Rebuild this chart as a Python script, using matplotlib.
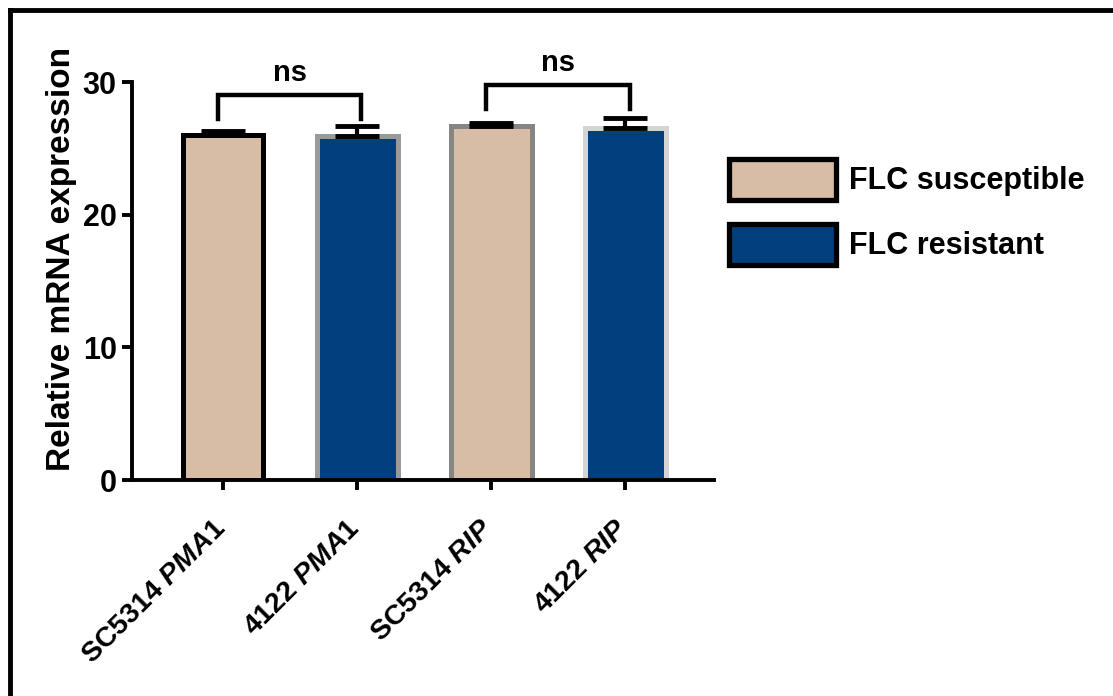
import matplotlib
matplotlib.use("Agg")
import matplotlib.pyplot as plt
from matplotlib.patches import Patch
from matplotlib.lines import Line2D
import matplotlib.transforms as mtrans
import numpy as np

plt.rcParams['font.family'] = ['Liberation Sans', 'DejaVu Sans']
plt.rcParams['font.weight'] = 'bold'
plt.rcParams['mathtext.fontset'] = 'custom'
plt.rcParams['mathtext.it'] = 'Liberation Sans:italic:bold'
plt.rcParams['mathtext.rm'] = 'Liberation Sans:bold'

# data
strains = ["SC5314", "4122", "SC5314", "4122"]
genes = ["PMA1", "PMA1", "RIP", "RIP"]
means = [26.0, 25.95, 26.7, 26.5]
errs = [0.3, 0.7, 0.2, 0.8]
groups = ["FLC susceptible", "FLC resistant", "FLC susceptible", "FLC resistant"]
legend_labels = ["FLC susceptible", "FLC resistant"]
fill = {"FLC susceptible": "#D7BCA6", "FLC resistant": "#023F7E"}
edges = ["#000000", "#9A9A9A", "#858585", "#D4D4D4"]
pairs = [(0, 1), (2, 3)]
pair_labels = ["ns", "ns"]

fig = plt.figure(figsize=(11.13, 6.96), dpi=100)
ax = fig.add_axes([132 / 1113, 1 - 480 / 696, 582 / 1113, 398 / 696])

x = np.arange(len(means))
ax.bar(x, means, width=0.6, color=[fill[g] for g in groups],
       edgecolor=edges, linewidth=3.6, zorder=2)
ax.errorbar(x, means, yerr=[np.zeros(len(errs)), errs], fmt='none',
            ecolor='black', elinewidth=3, capsize=16, capthick=3.5, zorder=3)

# significance brackets
br_top = [29.0, 29.8]
br_leg = [27.2, 27.95]
for (a, b), lab, yt, yl in zip(pairs, pair_labels, br_top, br_leg):
    xa, xb = a - 0.04, b + 0.03
    ax.plot([xa, xa, xb, xb], [yl, yt, yt, yl], color='black', lw=3.2,
            solid_joinstyle='miter', clip_on=False, zorder=4)
    ax.text((xa + xb) / 2, yt + 0.6, lab, ha='center', va='bottom',
            fontsize=21, fontweight='bold')

ax.set_xlim(-0.68, 3.66)
ax.set_ylim(0, 30)
ax.set_yticks([0, 10, 20, 30])
ax.set_xticks(x)
ax.set_xticklabels([s + r" $\mathit{" + g + "}$" for s, g in zip(strains, genes)],
                   rotation=45, ha='right', va='top', rotation_mode='anchor')
ax.tick_params(axis='both', width=2.8, length=7, pad=4)
ax.tick_params(axis='y', labelsize=22)
ax.tick_params(axis='x', labelsize=20.5, pad=21)
shift = mtrans.ScaledTranslation(-0.11, 0.04, fig.dpi_scale_trans)
for lab in ax.get_xticklabels():
    lab.set_transform(lab.get_transform() + shift)
for lab in ax.get_yticklabels():
    lab.set_fontweight('bold')
ax.set_ylabel("Relative mRNA expression", fontsize=24, fontweight='bold')
ax.yaxis.set_label_coords(-0.095, 0.555)

for s in ['top', 'right']:
    ax.spines[s].set_visible(False)
for s in ['left', 'bottom']:
    ax.spines[s].set_linewidth(2.8)

handles = [Patch(facecolor=fill[l], edgecolor='black', linewidth=3.8) for l in legend_labels]
fig.legend(handles, legend_labels, loc='upper left',
           bbox_to_anchor=(729 / 1113, 1 - 159 / 696), frameon=False,
           handlelength=3.5, handleheight=1.67,
           handletextpad=0.42, labelspacing=0.8, borderpad=0, borderaxespad=0,
           prop={'weight': 'bold', 'size': 22})

# border (top and left only, like the cropped original)
fig.add_artist(Line2D([10 / 1113, 10 / 1113], [0, 1 - 10 / 696], color='black', lw=3.5,
                      transform=fig.transFigure, solid_capstyle='projecting'))
fig.add_artist(Line2D([10 / 1113, 1], [1 - 10 / 696, 1 - 10 / 696], color='black', lw=3.5,
                      transform=fig.transFigure, solid_capstyle='projecting'))

fig.savefig("out.png", dpi=100)
